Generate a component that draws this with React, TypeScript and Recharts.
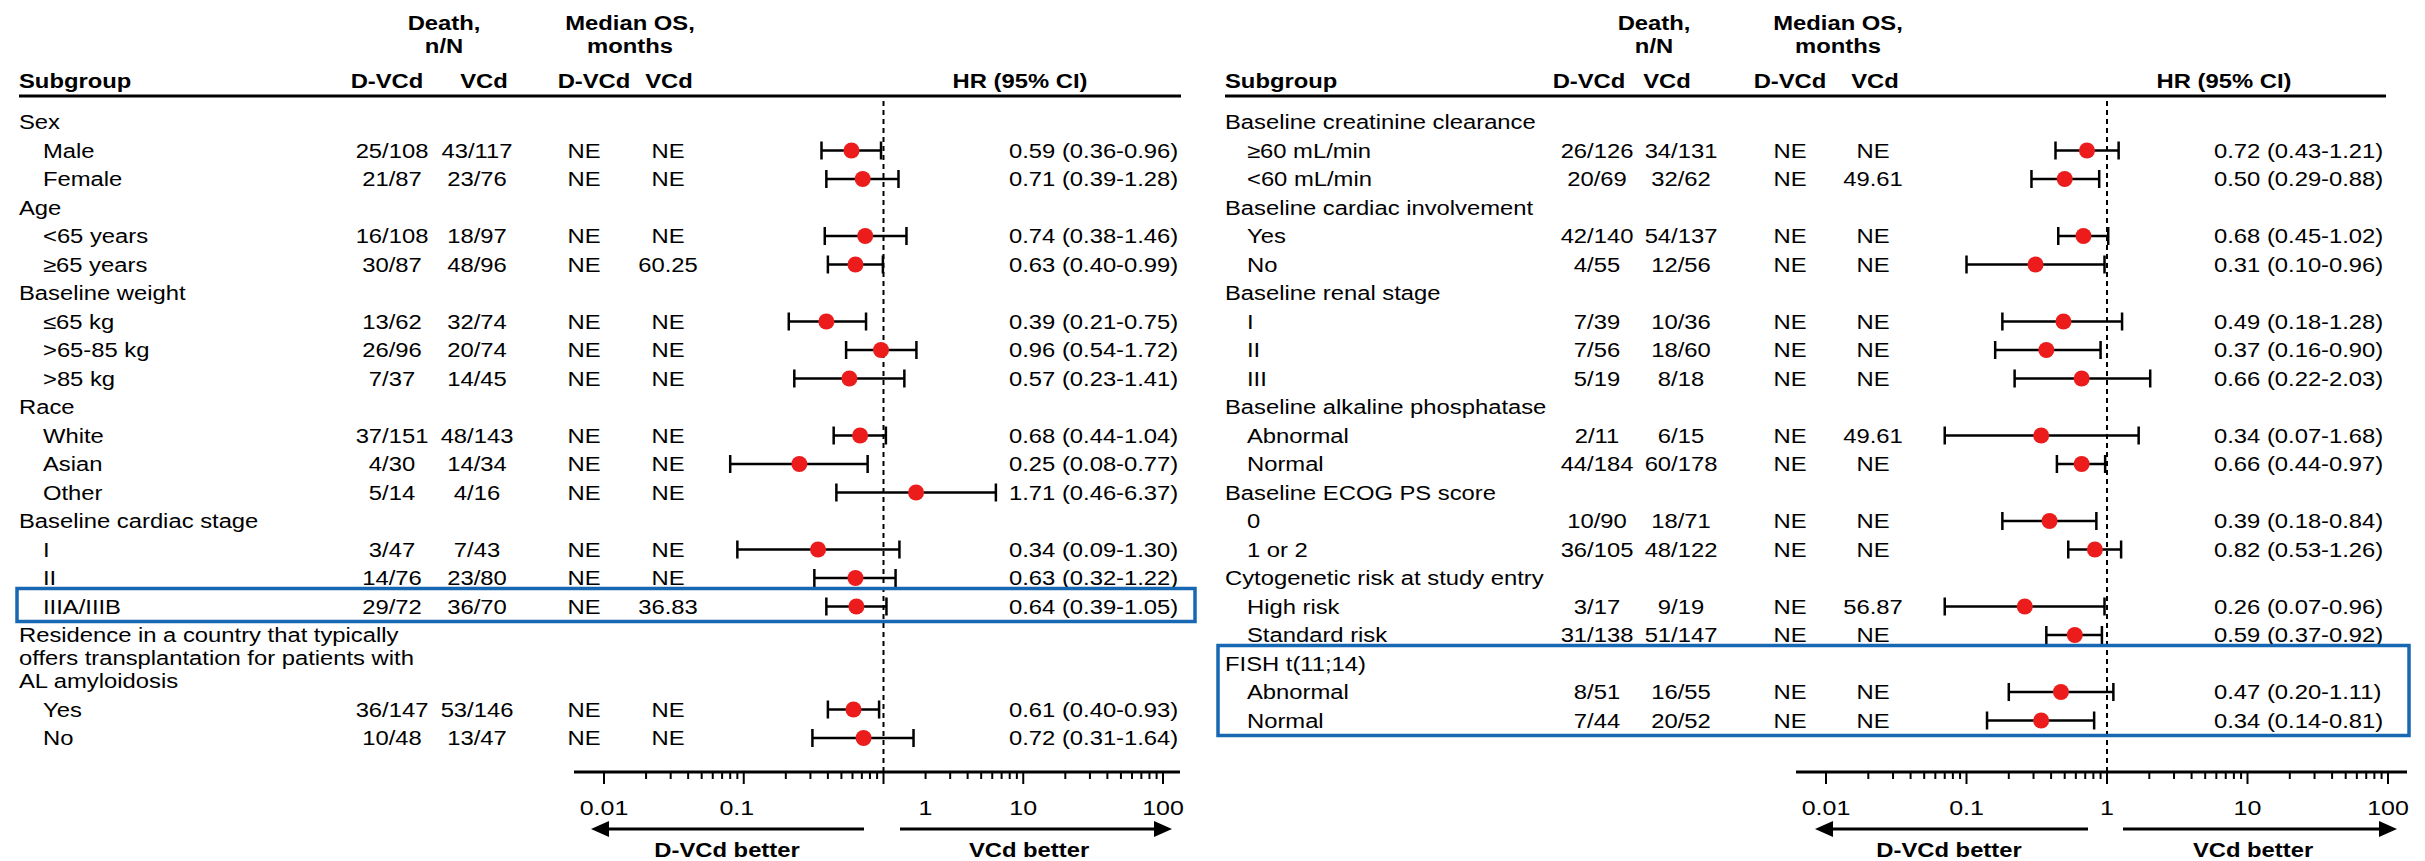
import { ScatterChart, Scatter, XAxis, YAxis, ErrorBar, ReferenceLine } from "recharts"

const FONT = "'Liberation Sans', Arial, Helvetica, sans-serif"
const SX = 1.19 // the source figure is stretched horizontally
const RED = "#ec1c1c"
const BLUE = "#1767b3"
const W = 2425
const H = 861
const ROW0 = 122
const PITCH = 28.5
const LINE_GAP = 23
const PLOT_TOP = 97
const AXIS_Y = 772
const XAXIS_H = 80

const majorTicks = [0.01, 0.1, 1, 10, 100]
const majorLabels = ["0.01", "0.1", "1", "10", "100"]
const minorSteps = [2, 3, 4, 5, 6, 7, 8, 9]

// left panel
const leftLabels = [
  "Sex", "Male", "Female", "Age", "<65 years", "≥65 years", "Baseline weight", "≤65 kg", ">65-85 kg", ">85 kg",
  "Race", "White", "Asian", "Other", "Baseline cardiac stage", "I", "II", "IIIA/IIIB",
  "Residence in a country that typically\noffers transplantation for patients with\nAL amyloidosis", "Yes", "No",
]
const leftDeathDVCd = [null, "25/108", "21/87", null, "16/108", "30/87", null, "13/62", "26/96", "7/37", null, "37/151", "4/30", "5/14", null, "3/47", "14/76", "29/72", null, "36/147", "10/48"]
const leftDeathVCd = [null, "43/117", "23/76", null, "18/97", "48/96", null, "32/74", "20/74", "14/45", null, "48/143", "14/34", "4/16", null, "7/43", "23/80", "36/70", null, "53/146", "13/47"]
const leftMedDVCd = [null, "NE", "NE", null, "NE", "NE", null, "NE", "NE", "NE", null, "NE", "NE", "NE", null, "NE", "NE", "NE", null, "NE", "NE"]
const leftMedVCd = [null, "NE", "NE", null, "NE", "60.25", null, "NE", "NE", "NE", null, "NE", "NE", "NE", null, "NE", "NE", "36.83", null, "NE", "NE"]
const leftHR = [null, 0.59, 0.71, null, 0.74, 0.63, null, 0.39, 0.96, 0.57, null, 0.68, 0.25, 1.71, null, 0.34, 0.63, 0.64, null, 0.61, 0.72]
const leftLo = [null, 0.36, 0.39, null, 0.38, 0.40, null, 0.21, 0.54, 0.23, null, 0.44, 0.08, 0.46, null, 0.09, 0.32, 0.39, null, 0.40, 0.31]
const leftHi = [null, 0.96, 1.28, null, 1.46, 0.99, null, 0.75, 1.72, 1.41, null, 1.04, 0.77, 6.37, null, 1.30, 1.22, 1.05, null, 0.93, 1.64]

// right panel
const rightLabels = [
  "Baseline creatinine clearance", "≥60 mL/min", "<60 mL/min", "Baseline cardiac involvement", "Yes", "No",
  "Baseline renal stage", "I", "II", "III", "Baseline alkaline phosphatase", "Abnormal", "Normal",
  "Baseline ECOG PS score", "0", "1 or 2", "Cytogenetic risk at study entry", "High risk", "Standard risk",
  "FISH t(11;14)", "Abnormal", "Normal",
]
const rightDeathDVCd = [null, "26/126", "20/69", null, "42/140", "4/55", null, "7/39", "7/56", "5/19", null, "2/11", "44/184", null, "10/90", "36/105", null, "3/17", "31/138", null, "8/51", "7/44"]
const rightDeathVCd = [null, "34/131", "32/62", null, "54/137", "12/56", null, "10/36", "18/60", "8/18", null, "6/15", "60/178", null, "18/71", "48/122", null, "9/19", "51/147", null, "16/55", "20/52"]
const rightMedDVCd = [null, "NE", "NE", null, "NE", "NE", null, "NE", "NE", "NE", null, "NE", "NE", null, "NE", "NE", null, "NE", "NE", null, "NE", "NE"]
const rightMedVCd = [null, "NE", "49.61", null, "NE", "NE", null, "NE", "NE", "NE", null, "49.61", "NE", null, "NE", "NE", null, "56.87", "NE", null, "NE", "NE"]
const rightHR = [null, 0.72, 0.50, null, 0.68, 0.31, null, 0.49, 0.37, 0.66, null, 0.34, 0.66, null, 0.39, 0.82, null, 0.26, 0.59, null, 0.47, 0.34]
const rightLo = [null, 0.43, 0.29, null, 0.45, 0.10, null, 0.18, 0.16, 0.22, null, 0.07, 0.44, null, 0.18, 0.53, null, 0.07, 0.37, null, 0.20, 0.14]
const rightHi = [null, 1.21, 0.88, null, 1.02, 0.96, null, 1.28, 0.90, 2.03, null, 1.68, 0.97, null, 0.84, 1.26, null, 0.96, 0.92, null, 1.11, 0.81]

const allTicks = [
  ...majorTicks,
  ...majorTicks.slice(0, 4).flatMap((d) => minorSteps.map((s) => +(d * s).toPrecision(3))),
].sort((a, b) => a - b)

type Geo = {
  left: number; width: number; axisFrom: number; axisTo: number; one: number; decade: number
  subX: number; itemX: number; lineTo: number
  deathD: number; deathV: number; medD: number; medV: number
  hDeath: number; hDeathD: number; hDeathV: number; hMed: number; hMedD: number; hMedV: number; hHR: number
  ciX: number; box: [number, number]; boxRows: [number, number]
  better: [number, number]; arrowL: [number, number]; arrowR: [number, number]
  shifts: Record<string, number>
}

const leftGeo: Geo = {
  left: 0, width: 1210, axisFrom: 574, axisTo: 1180, one: 883.5, decade: 139.75,
  subX: 19, itemX: 43, lineTo: 1181,
  deathD: 392, deathV: 477, medD: 584, medV: 668,
  hDeath: 444, hDeathD: 387, hDeathV: 484, hMed: 630, hMedD: 594, hMedV: 669, hHR: 1020,
  ciX: 1009, box: [17, 1195], boxRows: [17, 17],
  better: [727, 1029], arrowL: [591, 864], arrowR: [900, 1172],
  shifts: { "0.1": -7, "1": 42 },
}

const rightGeo: Geo = {
  left: 1210, width: 1215, axisFrom: 1796, axisTo: 2407, one: 2107, decade: 140.5,
  subX: 1225, itemX: 1247, lineTo: 2386,
  deathD: 1597, deathV: 1681, medD: 1790, medV: 1873,
  hDeath: 1654, hDeathD: 1589, hDeathV: 1667, hMed: 1838, hMedD: 1790, hMedV: 1875, hHR: 2224,
  ciX: 2214, box: [1218, 2409], boxRows: [19, 21],
  better: [1949, 2253], arrowL: [1815, 2088], arrowR: [2123, 2397],
  shifts: {},
}

type Row = {
  lines: string[]; isItem: boolean; row: number
  deathD: string | null; deathV: string | null; medD: string | null; medV: string | null
  hr: number | null; lo: number | null; hi: number | null
}

function buildRows(labels: string[], dD: (string | null)[], dV: (string | null)[], mD: (string | null)[], mV: (string | null)[], hr: (number | null)[], lo: (number | null)[], hi: (number | null)[]): Row[] {
  let pos = -1
  return labels.map((l, i) => {
    const lines = l.split("\n")
    const row = pos + 1
    pos = row + ((lines.length - 1) * LINE_GAP) / PITCH
    return { lines, isItem: hr[i] != null, row, deathD: dD[i], deathV: dV[i], medD: mD[i], medV: mV[i], hr: hr[i], lo: lo[i], hi: hi[i] }
  })
}

const leftRows = buildRows(leftLabels, leftDeathDVCd, leftDeathVCd, leftMedDVCd, leftMedVCd, leftHR, leftLo, leftHi)
const rightRows = buildRows(rightLabels, rightDeathDVCd, rightDeathVCd, rightMedDVCd, rightMedVCd, rightHR, rightLo, rightHi)

const yPx = (row: number) => ROW0 + row * PITCH
const rowAt = (px: number) => (px - ROW0) / PITCH

function T({ x, y, children, anchor = "start", bold = false, size = 20 }: any) {
  return (
    <text
      transform={`translate(${x},${y}) scale(${SX},1)`}
      textAnchor={anchor}
      fontSize={size}
      fontWeight={bold ? "bold" : "normal"}
      fontFamily={FONT}
      fill="#000"
    >
      {children}
    </text>
  )
}

function LogTick(props: any) {
  const { x, y, payload, shifts } = props
  const v = payload.value
  const mi = majorTicks.indexOf(v)
  const major = mi >= 0
  const label = major ? majorLabels[mi] : ""
  const dx = shifts[label] ?? 0
  return (
    <g>
      <line x1={x} x2={x} y1={y} y2={y + (major ? 12 : 7)} stroke="#000" strokeWidth={2} />
      {major && <T x={x + dx} y={y + 43} anchor="middle" size={21}>{label}</T>}
    </g>
  )
}

const Dot = (p: any) => <circle cx={p.cx} cy={p.cy} r={8} fill={RED} />

function ForestChart({ g, rows }: { g: Geo; rows: Row[] }) {
  const lo = Math.pow(10, (g.axisFrom - g.one) / g.decade)
  const hi = Math.pow(10, (g.axisTo - g.one) / g.decade)
  const data = rows
    .filter((r) => r.isItem)
    .map((r) => ({ hr: r.hr, row: r.row, err: [(r.hr as number) - (r.lo as number), (r.hi as number) - (r.hr as number)] }))
  return (
    <ScatterChart
      width={g.width}
      height={H}
      margin={{ top: PLOT_TOP, bottom: H - AXIS_Y - XAXIS_H, left: g.axisFrom - g.left, right: g.left + g.width - g.axisTo }}
    >
      <XAxis
        type="number"
        dataKey="hr"
        scale="log"
        domain={[lo, hi]}
        allowDataOverflow
        ticks={allTicks}
        interval={0}
        tickLine={false}
        tickSize={0}
        tickMargin={0}
        axisLine={{ stroke: "#000", strokeWidth: 3 }}
        height={XAXIS_H}
        tick={<LogTick shifts={g.shifts} />}
      />
      <YAxis type="number" dataKey="row" domain={[rowAt(PLOT_TOP), rowAt(AXIS_Y)]} reversed hide allowDataOverflow />
      <ReferenceLine x={1} stroke="#000" strokeWidth={2} strokeDasharray="5 4" />
      <Scatter data={data} isAnimationActive={false} shape={Dot}>
        <ErrorBar dataKey="err" direction="x" width={9} stroke="#000" strokeWidth={2.5} isAnimationActive={false} />
      </Scatter>
    </ScatterChart>
  )
}

function PanelText({ g, rows }: { g: Geo; rows: Row[] }) {
  const ay = 829
  const boxTop = yPx(rows[g.boxRows[0]].row) - 18
  const boxBottom = yPx(rows[g.boxRows[1]].row) + 15
  return (
    <g>
      <T x={g.hDeath} y={30} anchor="middle" bold>Death,</T>
      <T x={g.hDeath} y={53} anchor="middle" bold>n/N</T>
      <T x={g.hMed} y={30} anchor="middle" bold>Median OS,</T>
      <T x={g.hMed} y={53} anchor="middle" bold>months</T>
      <T x={g.subX} y={88} bold>Subgroup</T>
      <T x={g.hDeathD} y={88} anchor="middle" bold>D-VCd</T>
      <T x={g.hDeathV} y={88} anchor="middle" bold>VCd</T>
      <T x={g.hMedD} y={88} anchor="middle" bold>D-VCd</T>
      <T x={g.hMedV} y={88} anchor="middle" bold>VCd</T>
      <T x={g.hHR} y={88} anchor="middle" bold>HR (95% CI)</T>
      <line x1={g.subX} x2={g.lineTo} y1={96} y2={96} stroke="#000" strokeWidth={3} />

      {rows.map((r, i) => {
        const y = yPx(r.row) + 7
        return (
          <g key={i}>
            {r.lines.map((l, k) => (
              <T key={k} x={r.isItem ? g.itemX : g.subX} y={y + (k * LINE_GAP)}>{l}</T>
            ))}
            {r.isItem && (
              <>
                <T x={g.deathD} y={y} anchor="middle">{r.deathD}</T>
                <T x={g.deathV} y={y} anchor="middle">{r.deathV}</T>
                <T x={g.medD} y={y} anchor="middle">{r.medD}</T>
                <T x={g.medV} y={y} anchor="middle">{r.medV}</T>
                <T x={g.ciX} y={y}>{`${(r.hr as number).toFixed(2)} (${(r.lo as number).toFixed(2)}-${(r.hi as number).toFixed(2)})`}</T>
              </>
            )}
          </g>
        )
      })}

      <rect x={g.box[0]} y={boxTop} width={g.box[1] - g.box[0]} height={boxBottom - boxTop} fill="none" stroke={BLUE} strokeWidth={3.5} />

      <line x1={g.arrowL[0] + 16} x2={g.arrowL[1]} y1={ay} y2={ay} stroke="#000" strokeWidth={3} />
      <polygon points={`${g.arrowL[0]},${ay} ${g.arrowL[0] + 18},${ay - 8} ${g.arrowL[0] + 18},${ay + 8}`} fill="#000" />
      <line x1={g.arrowR[0]} x2={g.arrowR[1] - 16} y1={ay} y2={ay} stroke="#000" strokeWidth={3} />
      <polygon points={`${g.arrowR[1]},${ay} ${g.arrowR[1] - 18},${ay - 8} ${g.arrowR[1] - 18},${ay + 8}`} fill="#000" />
      <T x={g.better[0]} y={857} anchor="middle" bold>D-VCd better</T>
      <T x={g.better[1]} y={857} anchor="middle" bold>VCd better</T>
    </g>
  )
}

export default function App() {
  return (
    <div style={{ position: "relative", width: W, height: H, background: "#fff", overflow: "hidden" }}>
      <style>{"body{margin:0}"}</style>
      <div style={{ position: "absolute", left: leftGeo.left, top: 0 }}>
        <ForestChart g={leftGeo} rows={leftRows} />
      </div>
      <div style={{ position: "absolute", left: rightGeo.left, top: 0 }}>
        <ForestChart g={rightGeo} rows={rightRows} />
      </div>
      <svg width={W} height={H} style={{ position: "absolute", left: 0, top: 0, pointerEvents: "none" }}>
        <PanelText g={leftGeo} rows={leftRows} />
        <PanelText g={rightGeo} rows={rightRows} />
      </svg>
    </div>
  )
}
